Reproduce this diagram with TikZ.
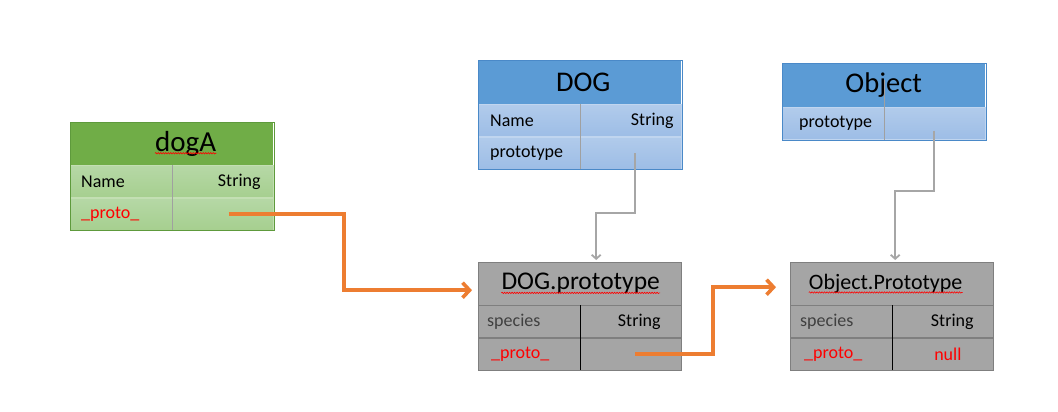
\documentclass[tikz,border=0pt]{standalone}
\usepackage{fontspec}
\setmainfont{Carlito}
\usetikzlibrary{positioning,arrows.meta,decorations.pathmorphing}
\definecolor{headgreen}{HTML}{70AD47}
\definecolor{rowgreentop}{HTML}{B6D8A6}
\definecolor{rowgreenbot}{HTML}{A6CF8F}
\definecolor{linegreen}{HTML}{C3DFB3}
\definecolor{edgegreen}{HTML}{5E9A3C}
\definecolor{headblue}{HTML}{5B9BD5}
\definecolor{rowbluetop}{HTML}{B1CBEB}
\definecolor{rowbluebot}{HTML}{9DBDE6}
\definecolor{lineblue}{HTML}{C0D5EF}
\definecolor{edgeblue}{HTML}{4A89C8}
\definecolor{boxgray}{HTML}{A5A5A5}
\definecolor{edgegray}{HTML}{7F7F7F}
\definecolor{divgray}{HTML}{A0A0A0}
\definecolor{arrowgray}{HTML}{A6A6A6}
\definecolor{arroworange}{HTML}{ED7D31}
\definecolor{softblack}{HTML}{404040}

\begin{document}
\begin{tikzpicture}[x=1pt,y=-1pt,
    every node/.style={inner sep=0pt},
    box/.style={minimum width=203pt, minimum height=#1, anchor=north west},
    cell/.style={minimum width=101.5pt, minimum height=32pt},
    greenhead/.style={box=43pt, fill=headgreen},
    greencell/.style={cell, draw=linegreen, top color=rowgreentop, bottom color=rowgreenbot},
    bluehead/.style={box=44pt, fill=headblue},
    bluecell/.style={cell, draw=lineblue, top color=rowbluetop, bottom color=rowbluebot},
    grayhead/.style={box=43pt, fill=boxgray, draw=edgegray},
    graycell/.style={cell, fill=boxgray, draw=edgegray},
    title/.style={font=\fontsize{#1}{#1}\selectfont},
    txt/.style={font=\fontsize{18}{21}\selectfont},
    spell/.style={draw=red, line width=0.6pt, decorate,
        decoration={snake, amplitude=0.7pt, segment length=2.5pt}},
    link/.style={draw=arrowgray, line width=1.8pt, -{Straight Barb[length=4pt,width=9pt]}},
    chain/.style={draw=arroworange, line width=3.6pt, -{Straight Barb[length=7pt,width=15pt]}}]
  \fill[white] (0,0) rectangle (1058,412);
  \useasboundingbox (0,0) rectangle (1058,412);

  % dogA
  \node[greenhead] (dogA) at (70,122) {};
  \node[title=29] (dogA-t) at ([xshift=14pt]dogA.center) {dogA};
  \node[greencell, below right=0pt of dogA.south west] (dogA-a1) {};
  \node[greencell, right=0pt of dogA-a1] (dogA-b1) {};
  \node[greencell, below=0pt of dogA-a1] (dogA-a2) {};
  \node[greencell, right=0pt of dogA-a2] (dogA-b2) {};
  \draw[edgegreen] (dogA.north west) rectangle (dogA-b2.south east);
  \draw[divgray] (dogA-a1.north east) -- (dogA-a2.south east);
  \node[txt, right=11pt of dogA-a1.west] (dogA-name) {Name};
  \node[txt, left=13pt of dogA-b1.east] (dogA-str) {String};
  \node[txt, text=red, right=11pt of dogA-a2.west] (dogA-proto) {\_proto\_};

  % DOG
  \node[bluehead] (dog) at (478,60) {};
  \node[title=28.5] (dog-t) at ([xshift=3.5pt]dog.center) {DOG};
  \node[bluecell, below right=0pt of dog.south west] (dog-a1) {};
  \node[bluecell, right=0pt of dog-a1] (dog-b1) {};
  \node[bluecell, below=0pt of dog-a1] (dog-a2) {};
  \node[bluecell, right=0pt of dog-a2] (dog-b2) {};
  \draw[edgeblue] (dog.north west) rectangle (dog-b2.south east);
  \draw[divgray] (dog-a1.north east) -- (dog-a2.south east);
  \node[txt, right=12pt of dog-a1.west] (dog-name) {Name};
  \node[txt, left=8pt of dog-b1.east] (dog-str) {String};
  \node[txt, right=12pt of dog-a2.west] (dog-proto) {prototype};

  % Object
  \node[bluehead] (obj) at (782,63) {};
  \node[title=28.5] (obj-t) at (obj.center) {Object};
  \node[bluecell, below right=0pt of obj.south west] (obj-a1) {};
  \node[bluecell, right=0pt of obj-a1] (obj-b1) {};
  \draw[edgeblue] (obj.north west) rectangle (obj-b1.south east);
  \draw[divgray] ([yshift=27pt]obj-a1.north east) -- (obj-a1.south east);
  \node[txt, right=17pt of obj-a1.west] (obj-proto) {prototype};

  % DOG.prototype
  \node[grayhead] (dogproto) at (478,262) {};
  \node[title=25.5] (dogproto-t) at ([xshift=1pt]dogproto.center) {DOG.prototype};
  \node[graycell, below right=0pt of dogproto.south west] (dogproto-a1) {};
  \node[graycell, right=0pt of dogproto-a1] (dogproto-b1) {};
  \node[graycell, below=0pt of dogproto-a1] (dogproto-a2) {};
  \node[graycell, right=0pt of dogproto-a2] (dogproto-b2) {};
  \draw[black] (dogproto-a1.north east) -- (dogproto-a2.south east);
  \node[txt, text=softblack, right=9pt of dogproto-a1.west] (dogproto-spec) {species};
  \node[txt, left=21pt of dogproto-b1.east] (dogproto-str) {String};
  \node[txt, text=red, right=13pt of dogproto-a2.west] (dogproto-proto) {\_proto\_};

  % Object.Prototype
  \node[grayhead] (objproto) at (790,262) {};
  \node[title=22] (objproto-t) at ([xshift=-6pt]objproto.center) {Object.Prototype};
  \node[graycell, below right=0pt of objproto.south west] (objproto-a1) {};
  \node[graycell, right=0pt of objproto-a1] (objproto-b1) {};
  \node[graycell, below=0pt of objproto-a1] (objproto-a2) {};
  \node[graycell, right=0pt of objproto-a2] (objproto-b2) {};
  \draw[black] (objproto-a1.north east) -- (objproto-a2.south east);
  \node[txt, text=softblack, right=10pt of objproto-a1.west] (objproto-spec) {species};
  \node[txt, left=20pt of objproto-b1.east] (objproto-str) {String};
  \node[txt, text=red, right=14pt of objproto-a2.west] (objproto-proto) {\_proto\_};
  \node[txt, text=red] (objproto-null) at ([xshift=5pt]objproto-b2.center) {null};

  % spelling marks
  \draw[spell] ([yshift=-2pt]dogA-t.base west) -- ([yshift=-2pt]dogA-t.base east);
  \draw[spell] ([yshift=-3pt]dogproto-t.base west) -- ([yshift=-3pt]dogproto-t.base east);
  \draw[spell] ([yshift=-3pt]objproto-t.base west) -- ([yshift=-3pt]objproto-t.base east);

  % links
  \draw[link] ([xshift=4pt]dog-b2.center) -- ++(0,60) -| ([xshift=16.5pt,yshift=2pt]dogproto.north);
  \draw[link] ([xshift=-1pt,yshift=-7pt]obj-b1.center) -- ++(0,60) -| ([xshift=3.5pt,yshift=2pt]objproto.north);
  \draw[chain] ([xshift=6pt]dogA-b2.center) -- ++(115,0) |- ([xshift=-6pt,yshift=-6.5pt]dogproto.west);
  \draw[chain] ([xshift=4pt]dogproto-b2.center) -- ++(78,0) |- ([xshift=-14pt,yshift=-3.5pt]objproto.west);
\end{tikzpicture}
\end{document}
